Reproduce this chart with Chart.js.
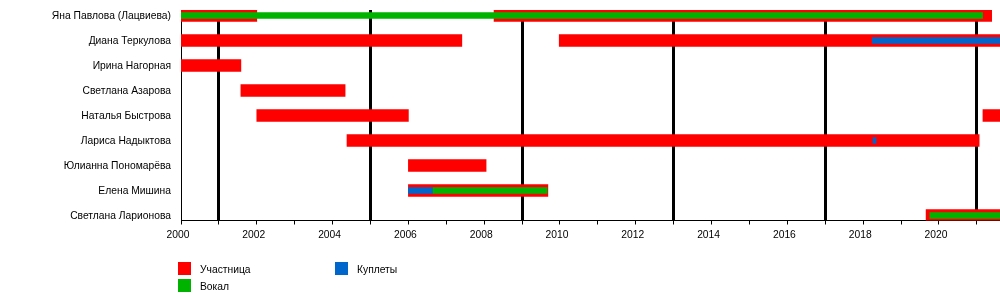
<!DOCTYPE html>
<html>
<head>
<meta charset="utf-8">
<script src="https://cdn.jsdelivr.net/npm/chart.js@4/dist/chart.umd.min.js"></script>
<style>
    body { margin: 0; background: #fff; font-family: 'Liberation Sans', Arial, sans-serif; }
    #wrap { position: relative; width: 1000px; height: 300px; }
    .lg-box { position: absolute; width: 13px; height: 13px; }
    .lg-text { position: absolute; font-size: 10.3px; line-height: 13px; color: #000; }
</style>
</head>
<body>
<div id="wrap">
    <canvas id="chart" width="1000" height="300"></canvas>
    <div id="legend"></div>
</div>
<script>
// Участницы (сверху вниз)
const names = [
    'Яна Павлова (Лацвиева)',
    'Диана Теркулова',
    'Ирина Нагорная',
    'Светлана Азарова',
    'Наталья Быстрова',
    'Лариса Надыктова',
    'Юлианна Пономарёва',
    'Елена Мишина',
    'Светлана Ларионова'
];

// Первый период участия (по строкам names)
const memberStart = [2000, 2000, 2000, 2001.58, 2002, 2004.38, 2006, 2006, 2019.66];
const memberEnd   = [2002, 2007.41, 2001.58, 2004.33, 2006, 2021.06, 2008.05, 2009.68, 2022];

// Возвращения в группу
const returnRows  = ['Яна Павлова (Лацвиева)', 'Диана Теркулова', 'Наталья Быстрова'];
const returnStart = [2008.26, 2009.98, 2021.16];
const returnEnd   = [2021.39, 2022, 2022];

// Вокал
const vocalRows  = ['Яна Павлова (Лацвиева)', 'Елена Мишина', 'Светлана Ларионова'];
const vocalStart = [2000, 2006.65, 2019.76];
const vocalEnd   = [2021.15, 2009.66, 2022];

// Куплеты
const coupletRows  = ['Диана Теркулова', 'Лариса Надыктова', 'Елена Мишина'];
const coupletStart = [2018.24, 2018.26, 2006];
const coupletEnd   = [2022, 2018.34, 2006.65];

// Годы выхода альбомов (вертикальные линии)
const albumYears = [2001, 2005, 2009, 2013, 2017, 2021];

const yearMin = 2000;
const yearMax = 2021.61;

const COLORS = { member: '#ff0000', vocal: '#00b300', couplet: '#0066cc' };

const legendItems = [
    { label: 'Участница', color: COLORS.member, left: 178, top: 262 },
    { label: 'Вокал', color: COLORS.vocal, left: 178, top: 279 },
    { label: 'Куплеты', color: COLORS.couplet, left: 335, top: 262 }
];

function spans(rows, starts, ends) {
    return rows.map((r, i) => ({ y: names.indexOf(r), x: [starts[i], ends[i]] }));
}

const datasets = [
    {
        label: 'Участница',
        data: spans(names, memberStart, memberEnd),
        backgroundColor: COLORS.member,
        barThickness: 12,
        order: 3
    },
    {
        label: 'Участница (2)',
        data: spans(returnRows, returnStart, returnEnd),
        backgroundColor: COLORS.member,
        barThickness: 12,
        order: 3
    },
    {
        label: 'Вокал',
        data: spans(vocalRows, vocalStart, vocalEnd),
        backgroundColor: COLORS.vocal,
        barThickness: 6,
        order: 1
    },
    {
        label: 'Куплеты',
        data: spans(coupletRows, coupletStart, coupletEnd),
        backgroundColor: COLORS.couplet,
        barThickness: 6,
        order: 1
    }
];

const FONT = { family: "'Liberation Sans', Arial, sans-serif", size: 10.3 };

new Chart(document.getElementById('chart'), {
    type: 'bar',
    data: { datasets: datasets },
    options: {
        indexAxis: 'y',
        responsive: false,
        animation: false,
        layout: { padding: { top: 10, left: 0, right: 0, bottom: 0 } },
        datasets: { bar: { grouped: false, borderWidth: 0 } },
        plugins: { legend: { display: false }, tooltip: { enabled: false } },
        scales: {
            x: {
                type: 'linear',
                min: yearMin,
                max: yearMax,
                afterBuildTicks: (s) => {
                    const t = [];
                    for (let yr = 2000; yr <= Math.floor(yearMax); yr++) t.push({ value: yr });
                    s.ticks = t;
                },
                afterFit: (s) => {
                    s.height = 79.5;
                    s.paddingLeft = 0;
                    s.paddingRight = 0;
                },
                ticks: {
                    autoSkip: false,
                    maxRotation: 0,
                    padding: 4,
                    labelOffset: -3,
                    color: '#000',
                    font: FONT,
                    callback: (v) => (v % 2 === 0 ? String(v) : '')
                },
                grid: {
                    drawOnChartArea: true,
                    color: (c) => (c.tick && albumYears.includes(c.tick.value) ? '#000' : 'rgba(0,0,0,0)'),
                    lineWidth: 3,
                    tickColor: '#000',
                    tickWidth: 1,
                    tickLength: 4
                },
                border: { display: true, color: '#000', width: 1 }
            },
            y: {
                type: 'linear',
                reverse: true,
                offset: false,
                min: -0.22,
                max: 8.2,
                afterBuildTicks: (s) => { s.ticks = names.map((n, i) => ({ value: i })); },
                afterFit: (s) => {
                    s.width = 181;
                    s.paddingTop = 0;
                    s.paddingBottom = 0;
                },
                ticks: {
                    autoSkip: false,
                    padding: 10,
                    labelOffset: 1,
                    color: '#000',
                    font: FONT,
                    callback: (v) => names[v] || ''
                },
                grid: { display: false, drawTicks: false, tickLength: 0 },
                border: { display: true, color: '#000', width: 1 }
            }
        }
    }
});

// Легенда
const legendEl = document.getElementById('legend');
legendItems.forEach(item => {
    const box = document.createElement('div');
    box.className = 'lg-box';
    box.style.left = item.left + 'px';
    box.style.top = item.top + 'px';
    box.style.background = item.color;
    legendEl.appendChild(box);

    const txt = document.createElement('div');
    txt.className = 'lg-text';
    txt.style.left = (item.left + 22) + 'px';
    txt.style.top = (item.top + 1) + 'px';
    txt.textContent = item.label;
    legendEl.appendChild(txt);
});
</script>
</body>
</html>
